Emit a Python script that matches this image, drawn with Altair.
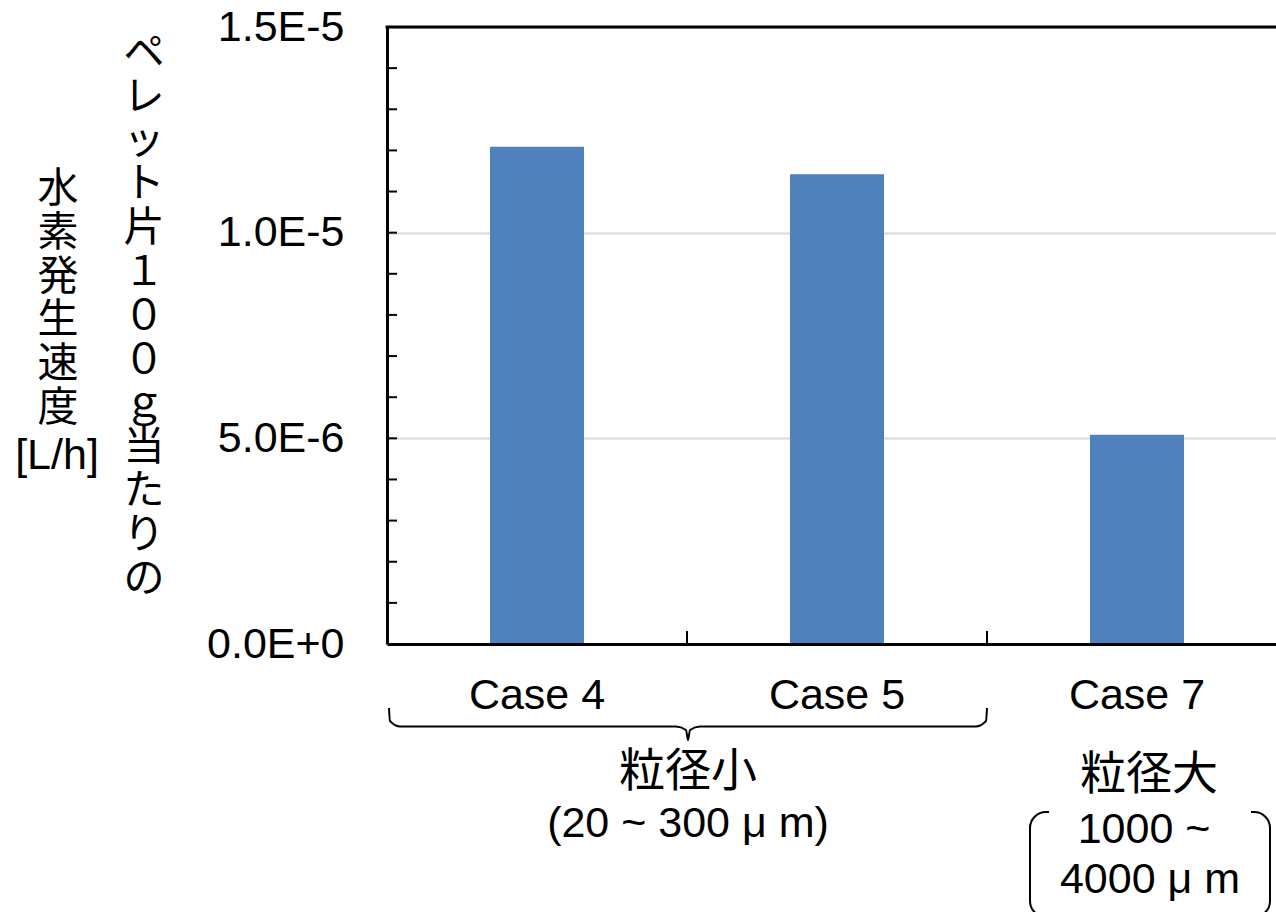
import altair as alt
import pandas as pd

# ---- data ----
cases = ["Case 4", "Case 5", "Case 7"]
rates = [1.209e-5, 1.142e-5, 5.09e-6]

y_major = [0, 5e-6, 1e-5, 1.5e-5]
y_major_labels = ["0.0E+0", "5.0E-6", "1.0E-5", "1.5E-5"]
y_minor = [1e-6, 2e-6, 3e-6, 4e-6, 5e-6, 6e-6, 7e-6, 8e-6, 9e-6,
           1e-5, 1.1e-5, 1.2e-5, 1.3e-5, 1.4e-5]
group_boundaries = ["Case 5", "Case 7"]

title_right = list("ペレット片１００ｇ当たりの")
title_left = ["水", "素", "発", "生", "速", "度", "[L/h]"]
small_group = ["粒径小", "(20 ~ 300 μ m)"]
large_group = ["粒径大", "1000 ~", "4000 μ m"]

# brace under Case 4 / Case 5 (decoration path, pixels relative to plot origin)
brace_x = [2, 3, 13, 289, 299, 301, 303, 313, 589, 599, 600]
brace_y = [681, 694, 699.5, 699.5, 703, 713, 703, 699.5, 699.5, 694, 681]

LATIN = "Liberation Sans, Arial, sans-serif"
CJK = "Noto Sans CJK JP"
BLUE = "#4F81BD"

W, H = 889, 617

df = pd.DataFrame({"case": cases, "rate": rates})

xscale = alt.Scale(domain=cases, range=[0, 900], paddingInner=0, paddingOuter=0)
yscale = alt.Scale(domain=[0, 1.5e-5], nice=False, zero=True)

label_expr = "{}[indexof({}, datum.value)]".format(
    "[" + ",".join("'%s'" % s for s in y_major_labels) + "]",
    "[" + ",".join(repr(v) for v in y_major) + "]",
)

bars = alt.Chart(df).mark_bar(width={"band": 94 / 300}, color=BLUE).encode(
    x=alt.X("case:N", sort=cases, scale=xscale, title=None,
            axis=alt.Axis(labelAngle=0, labelFont=LATIN, labelFontSize=43,
                          labelColor="black", labelPadding=30, ticks=False,
                          domain=True, domainColor="black", domainWidth=3,
                          zindex=1, labelBaseline="top")),
    y=alt.Y("rate:Q", scale=yscale, title=None,
            axis=alt.Axis(values=y_major, labelExpr=label_expr, labelFont=LATIN,
                          labelFontSize=43, labelColor="black", labelPadding=43,
                          ticks=False, domain=True, domainColor="black",
                          domainWidth=3, grid=True, gridColor="#D9D9D9",
                          gridWidth=2, zindex=0)),
)

minor = alt.Chart(pd.DataFrame({"v": y_minor})).mark_rule(
    color="black", strokeWidth=2).encode(
    y=alt.Y("v:Q", scale=yscale), x=alt.value(0), x2=alt.value(10))

xticks = alt.Chart(pd.DataFrame({"case": group_boundaries})).mark_rule(
    color="black", strokeWidth=2).encode(
    x=alt.X("case:N", scale=xscale, bandPosition=0), y=alt.value(H - 13),
    y2=alt.value(H))

top_line = alt.Chart(pd.DataFrame({"v": [1.5e-5]})).mark_rule(
    color="black", strokeWidth=3).encode(
    y=alt.Y("v:Q", scale=yscale), x=alt.value(-1.5), x2=alt.value(W))

brace = alt.Chart(pd.DataFrame({"px": brace_x, "py": brace_y})).mark_line(
    color="black", strokeWidth=2, interpolate="monotone").encode(
    x=alt.X("px:Q", scale=None, axis=None),
    y=alt.Y("py:Q", scale=None, axis=None),
    order="px:Q")

one = pd.DataFrame({"k": [0]})
bracket = alt.Chart(one).mark_rect(
    fillOpacity=0, stroke="black", strokeWidth=2, cornerRadius=16).encode(
    x=alt.value(643), x2=alt.value(883), y=alt.value(785), y2=alt.value(890))
cover = alt.Chart(one).mark_rect(color="white").encode(
    x=alt.value(662), x2=alt.value(864), y=alt.value(779), y2=alt.value(791))


def text_layer(s, x, y, font, size, baseline="middle", lh=None):
    kw = dict(font=font, fontSize=size, color="black", align="center",
              baseline=baseline, lineBreak="\n")
    if lh:
        kw["lineHeight"] = lh
    return alt.Chart(pd.DataFrame({"t": [s]})).mark_text(**kw).encode(
        text="t:N", x=alt.value(x), y=alt.value(y))


texts = [
    text_layer("\n".join(title_right), 144 - 387, 54 - 27, CJK, 41, lh=43.8),
    text_layer("\n".join(title_left[:-1]), 58 - 387, 190 - 27, CJK, 41, lh=43.8),
    text_layer(title_left[-1], 57 - 387, 469 - 27, LATIN, 43, baseline="alphabetic"),
    text_layer(small_group[0], 688 - 387, 772 - 27, CJK, 46),
    text_layer(small_group[1], 688 - 387, 837 - 27, LATIN, 43, baseline="alphabetic"),
    text_layer(large_group[0], 1149 - 387, 775 - 27, CJK, 46),
    text_layer(large_group[1], 1144 - 387, 843 - 27, LATIN, 43, baseline="alphabetic"),
    text_layer(large_group[2], 1150 - 387, 893 - 27, LATIN, 43, baseline="alphabetic"),
]

chart = alt.layer(bars, minor, xticks, top_line, brace, bracket, cover, *texts).properties(
    width=W, height=H, autosize="none",
    padding={"left": 387, "top": 27, "right": 0, "bottom": 268},
    background="white",
).configure_view(stroke=None)

chart.save("out.html", embed_options={"renderer": "svg", "actions": False})
